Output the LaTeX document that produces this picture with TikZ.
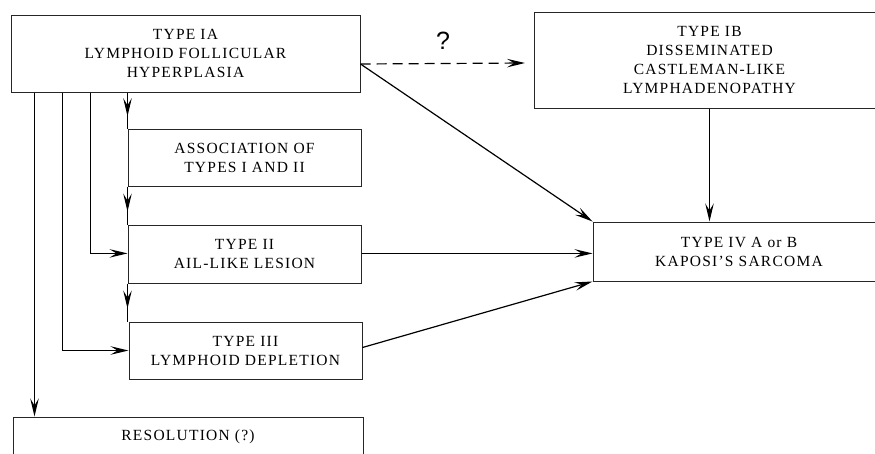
\documentclass[tikz,border=0pt]{standalone}
\usepackage{fontspec}
\setmainfont{Liberation Serif}[LetterSpace=8]
\newfontfamily\qfont{Liberation Sans}
\usetikzlibrary{arrows.meta,decorations.markings,calc}
\begin{document}
\begin{tikzpicture}[x=1pt,y=-1pt,
  txt/.style={font=\fontsize{15.5}{19}\selectfont},
  box/.style={draw=black!85, line width=1pt, rectangle, inner sep=0pt, align=center, txt},
  arr/.style={line width=1.2pt, -{Stealth[length=18pt,width=8.5pt,inset=7pt]}},
  midarr/.style={line width=1.2pt, postaction={decorate},
    decoration={markings, mark=at position 0.66 with {\arrow{Stealth[length=18pt,width=8.5pt,inset=7pt]}}}}
]
\useasboundingbox (0,0) rectangle (875,453);
\clip (0,0) rectangle (875,453);

\node[box, minimum width=349pt, minimum height=77pt] (IA) at (185.5,53.5)
  {TYPE IA\\LYMPHOID FOLLICULAR\\HYPERPLASIA};
\node[box, minimum width=233pt, minimum height=57pt] (AS) at (244.5,157.5)
  {ASSOCIATION OF\\TYPES I AND II};
\node[box, minimum width=233pt, minimum height=58pt] (II) at (244.5,254)
  {TYPE II\\AIL-LIKE LESION};
\node[box, minimum width=233pt, minimum height=57pt] (III) at (245.5,350.5)
  {TYPE III\\LYMPHOID DEPLETION};
\node[box, minimum width=350pt, minimum height=58pt,
  label={[txt, anchor=center, yshift=-20pt]north:RESOLUTION (?)}] (RES) at (188,446) {};
\node[box, minimum width=351pt, minimum height=96pt] (IB) at (709.5,60)
  {TYPE IB\\DISSEMINATED\\CASTLEMAN-LIKE\\LYMPHADENOPATHY};
\node[box, minimum width=292pt, minimum height=59pt] (IV) at (739,251.5)
  {TYPE IV A or B\\KAPOSI’S SARCOMA};

\node[font=\qfont\fontsize{25}{25}\selectfont] (q) at (443,41) {?};

% dashed and diagonal from IA
\coordinate (dstart) at ([yshift=-10.5pt]IA.east);
\coordinate (dend) at (525,63);
\draw[arr, dash pattern=on 10pt off 6pt] (dstart) -- (dend);
\draw[arr] (dstart) -- (IV.north west);
\draw[arr] (IB.south) -- (IB.south |- IV.north);
\draw[arr] ([yshift=0.6pt]II.east) -- ([yshift=0.6pt]II.east -| IV.west);
\draw[arr] ([yshift=3pt]III.east) -- (IV.south west);

% left branches
\coordinate (l1) at ([xshift=24pt]IA.south west);
\coordinate (l2) at ([xshift=52pt]IA.south west);
\coordinate (l3) at ([xshift=80pt]IA.south west);
\draw[arr] (l1) -- (l1 |- RES.north);
\draw[arr] (l2) -- (l2 |- III.west) -- (III.west);
\draw[arr] (l3) -- ([yshift=0.6pt]l3 |- II.west) -- ([yshift=0.6pt]II.west);
\draw[midarr] (AS.north west |- IA.south) -- (AS.north west);
\draw[midarr] (AS.south west) -- (II.north west);
\draw[midarr] (II.south west) -- (II.south west |- III.north);
\end{tikzpicture}
\end{document}
